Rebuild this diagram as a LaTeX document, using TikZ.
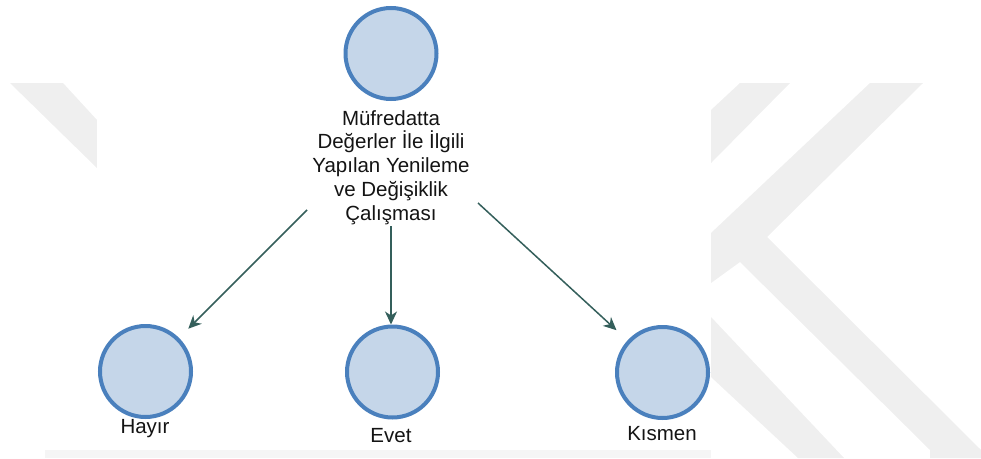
\documentclass[tikz,border=0pt]{standalone}
\usepackage{fontspec}
\setmainfont{Liberation Sans}
\usetikzlibrary{arrows.meta}
\definecolor{wm}{HTML}{EFEFEF}
\definecolor{cfill}{HTML}{C5D6E9}
\definecolor{cborder}{HTML}{4A80BD}
\definecolor{arrc}{HTML}{345F5B}
\definecolor{txt}{HTML}{141414}
\tikzset{
  bubble/.style={circle, draw=cborder, fill=cfill, line width=4pt, minimum size=91pt, inner sep=0pt},
  lbl/.style={text=txt, font=\fontsize{20.5}{23.75}\selectfont, inner sep=0pt},
  arr/.style={draw=arrc, line width=1.5pt, -{Stealth[length=13pt, width=12pt, inset=4pt]}}
}
\begin{document}
\begin{tikzpicture}[x=1pt, y=-1pt]
\useasboundingbox (0,0) rectangle (981,458);
% watermark
\fill[wm] (10,83) -- (63,83) -- (97,120) -- (97,168) -- cycle;
\fill[wm] (740,83) -- (790,83) -- (711,163) -- (711,110) -- cycle;
\fill[wm] (870,83) -- (923,83) -- (767,237) -- (981,450) -- (981,458) -- (930,458) -- (930,450) -- (740,262) -- (711,283) -- (711,233) -- cycle;
\fill[wm] (711,317) -- (844,458) -- (798,458) -- (711,377) -- cycle;
\fill[white] (97,0) rectangle (711,449);
\fill[black!4] (45,450) rectangle (711,458);
% nodes
\node[bubble] (top) at (391,53.5) {};
\node[lbl, align=center, anchor=north] (toplbl) at (391,110) {Müfredatta\\Değerler İle İlgili\\Yapılan Yenileme\\ve Değişiklik\\Çalışması};
\node[bubble] (hayir) at (145.5,371.5) {};
\node[bubble] (evet) at (392.5,372) {};
\node[bubble] (kismen) at (662.5,372.5) {};
\node[lbl, anchor=base] (hayirlbl) at (145,433) {Hayır};
\node[lbl, anchor=base] (evetlbl) at (391,442) {Evet};
\node[lbl, anchor=base] (kismenlbl) at (662,440) {Kısmen};
% connectors
\coordinate (s1) at (307,210);
\coordinate (s2) at (391,226);
\coordinate (s3) at (478,203);
\draw[arr, shorten >=13pt] (s1) -- (hayir);
\draw[arr] (s2) -- (s2 |- evet.north);
\draw[arr, shorten >=15pt] (s3) -- (kismen);
\end{tikzpicture}
\end{document}
